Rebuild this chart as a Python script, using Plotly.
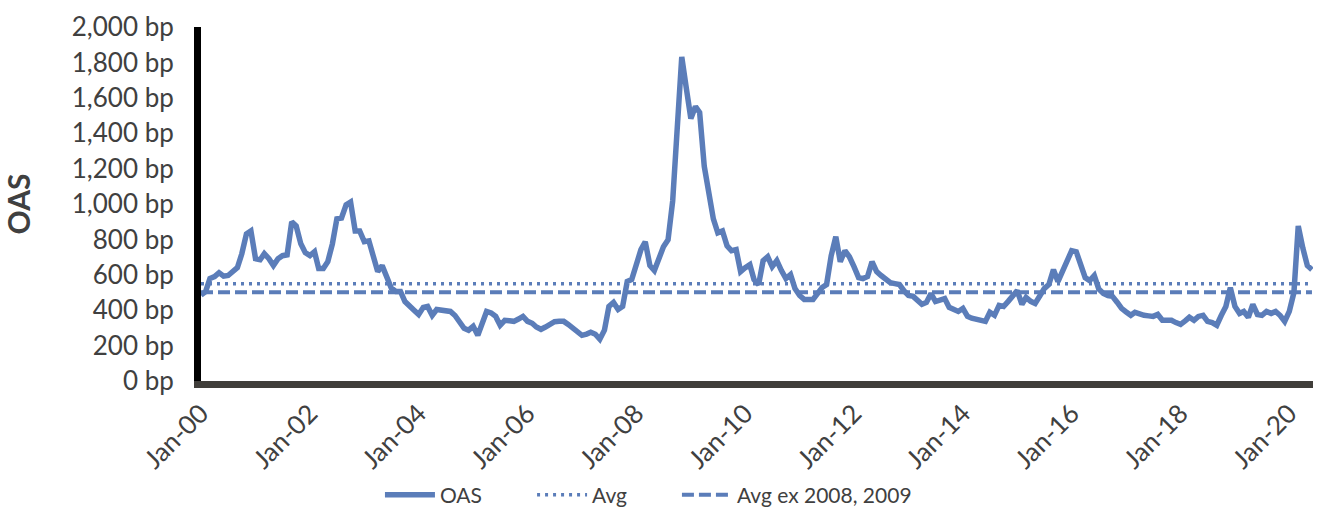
import pandas as pd
import plotly.graph_objects as go

# Monthly high-yield option-adjusted spread, Jan 2000 - Jun 2020 (bp)
start_month = "2000-01-01"
oas_bp = [
    485, 505, 579, 590, 612, 592, 596, 615, 640, 719, 831, 848,   # 2000
    691, 685, 719, 691, 652, 691, 708, 713, 899, 876, 775, 725,   # 2001
    708, 730, 635, 635, 674, 775, 916, 921, 995, 1011, 848, 848,  # 2002
    787, 792, 719, 618, 652, 579, 525, 506, 506, 449, 420, 400,   # 2003
    376, 416, 421, 371, 404, 398, 393, 393, 370, 340, 298, 287,   # 2004
    309, 258, 330, 393, 385, 365, 315, 343, 340, 337, 350, 365,   # 2005
    337, 326, 305, 292, 305, 320, 335, 337, 337, 320, 300, 275,   # 2006
    258, 265, 275, 264, 236, 287, 421, 444, 404, 421, 562, 573,   # 2007
    652, 742, 787, 652, 624, 702, 758, 798, 1017, 1420, 1831, 1657,  # 2008
    1483, 1551, 1517, 1213, 1060, 916, 837, 848, 764, 736, 742, 618,  # 2009
    640, 657, 573, 545, 680, 702, 646, 680, 624, 579, 601, 522,   # 2010
    483, 461, 461, 461, 494, 528, 545, 708, 815, 674, 736, 702,   # 2011
    646, 584, 579, 590, 674, 618, 596, 575, 555, 550, 545, 510,   # 2012
    483, 478, 455, 433, 444, 494, 449, 460, 466, 416, 400, 393,   # 2013
    410, 365, 355, 348, 340, 337, 388, 371, 427, 421, 450, 480,   # 2014
    511, 433, 472, 450, 438, 480, 522, 545, 629, 562, 620, 690,   # 2015
    736, 730, 650, 584, 567, 596, 520, 495, 483, 478, 445, 410,   # 2016
    390, 371, 388, 375, 371, 368, 365, 376, 343, 343, 343, 330,   # 2017
    320, 340, 360, 343, 365, 371, 337, 330, 315, 370, 421, 528,   # 2018
    421, 382, 393, 360, 433, 376, 371, 393, 382, 393, 370, 337,   # 2019
    393, 500, 876, 750, 652, 629,                                 # 2020
]
avg_bp = 550
avg_ex_2008_2009_bp = 502

series_names = ["OAS", "Avg", "Avg ex 2008, 2009"]
y_ticks = list(range(0, 2001, 200))
y_tick_labels = [f"{v:,} bp" for v in y_ticks]

months = pd.date_range(start_month, periods=len(oas_bp), freq="MS")

line_color = "#5B7DB9"
text_color = "#404040"
font_family = "Lato, 'Open Sans', sans-serif"

fig = go.Figure()
fig.add_trace(go.Scatter(
    x=months, y=oas_bp, mode="lines", name=series_names[0],
    line=dict(color=line_color, width=5.5), legend="legend",
))
fig.add_trace(go.Scatter(
    x=months, y=[avg_bp] * len(months), mode="lines", name=series_names[1],
    line=dict(color=line_color, width=3.5, dash="3px,5px"), legend="legend2",
))
fig.add_trace(go.Scatter(
    x=months, y=[avg_ex_2008_2009_bp] * len(months), mode="lines", name=series_names[2],
    line=dict(color=line_color, width=4, dash="12px,5px"), legend="legend3",
))

# One legend per series, each placed in page coordinates below the axis labels
legend_common = dict(
    orientation="h", xref="container", yref="container",
    yanchor="middle", y=0.029, xanchor="left",
    font=dict(family=font_family, size=21, color=text_color),
    itemwidth=50, bgcolor="rgba(0,0,0,0)",
)

fig.update_layout(
    width=1317, height=510,
    margin=dict(l=201, r=4, t=27, b=129),
    paper_bgcolor="white", plot_bgcolor="white",
    font=dict(family=font_family, size=26, color=text_color),
    showlegend=True,
    legend=dict(x=0.2885, **legend_common),
    legend2=dict(x=0.404, **legend_common),
    legend3=dict(x=0.514, **legend_common),
)
fig.update_xaxes(
    type="date", automargin=False,
    range=["2000-01-01", "2020-06-08"],
    tick0="2000-01-01", dtick="M24", tickformat="%b-%y",
    tickangle=-45, ticks="", showgrid=False, zeroline=False,
    showline=True, linecolor="#403E3A", linewidth=7,
    tickfont=dict(size=26, color=text_color),
)
fig.update_yaxes(
    automargin=False,
    range=[0, 2000], tickvals=y_ticks, ticktext=y_tick_labels,
    ticks="", showgrid=False, zeroline=False,
    showline=True, linecolor="black", linewidth=7,
    ticklabelstandoff=15,
    tickfont=dict(size=26, color=text_color),
    title=dict(text="<b>OAS</b>", font=dict(size=30, color=text_color), standoff=36),
)

fig.write_html("out.html")
